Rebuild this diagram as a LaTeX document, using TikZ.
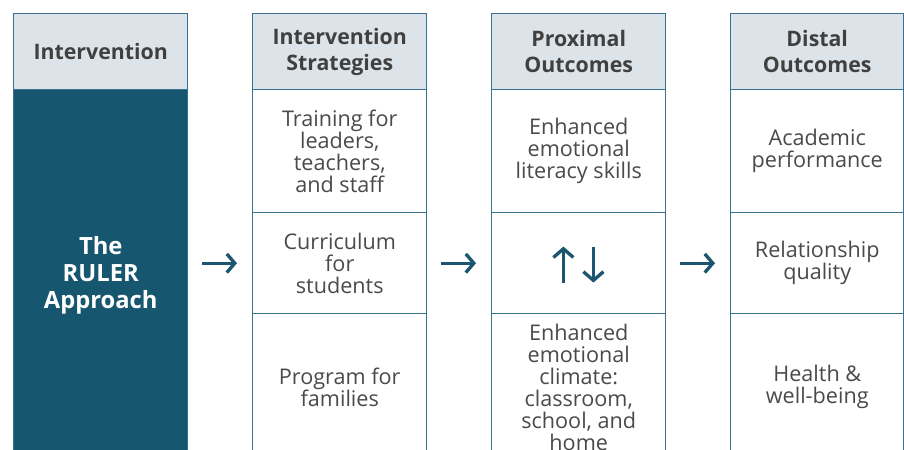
\documentclass[tikz,border=0pt]{standalone}
\usepackage{fontspec}
\setmainfont{Open Sans}
\usetikzlibrary{arrows.meta}
\definecolor{darkc}{HTML}{16566F}
\definecolor{headc}{HTML}{DDE4E9}
\definecolor{bordc}{HTML}{3A7090}
\definecolor{arrc}{HTML}{1B5570}
\definecolor{headtxt}{HTML}{404040}
\definecolor{bodytxt}{HTML}{4A4A4A}
\newcommand{\bodyfnt}{\fontsize{16.2}{16.5}\selectfont}
\newcommand{\headfnt}{\fontsize{16}{19.5}\selectfont\bfseries}
\newcommand{\rulerfnt}{\fontsize{17.8}{20}\selectfont\bfseries}
\tikzset{
  cell/.style={draw=bordc, line width=1.1pt, minimum width=130.5pt, inner sep=0pt,
    align=center, anchor=north west, text=bodytxt, font=\bodyfnt, fill=white},
  headcell/.style={cell, fill=headc, text=headtxt, font=\headfnt, minimum height=57pt},
  flowarr/.style={draw=arrc, line width=2.5pt, -{Straight Barb[length=6pt,width=14pt]},
    shorten <=10.5pt, shorten >=11.25pt},
  vertarr/.style={draw=arrc, line width=2.5pt, -{Straight Barb[length=6.5pt,width=15pt]}}
}
\begin{document}
\begin{tikzpicture}[x=0.75pt,y=-0.75pt]
\useasboundingbox (0,0) rectangle (904,450);
\clip (0,0) rectangle (904,450);
% column 1
\node[headcell] (h1) at (13,13) {Intervention};
\node[cell, fill=darkc, text=white, font=\rulerfnt, minimum height=278.25pt] (c1) at (13,89) {The\\RULER\\Approach};
% column 2
\node[headcell] (h2) at (252,13) {Intervention\\Strategies};
\node[cell, minimum height=92.25pt] (s1) at (252,89) {Training for\\leaders,\\teachers,\\and staff};
\node[cell, minimum height=75.75pt] (s2) at (252,212) {Curriculum\\for\\students};
\node[cell, minimum height=110.25pt] (s3) at (252,313) {Program for\\families};
% column 3
\node[headcell] (h3) at (491,13) {Proximal\\Outcomes};
\node[cell, minimum height=92.25pt] (p1) at (491,89) {Enhanced\\emotional\\literacy skills};
\node[cell, minimum height=75.75pt] (p2) at (491,212) {};
\node[cell, minimum height=110.25pt] (p3) at (491,313) {Enhanced\\emotional\\climate:\\classroom,\\school, and\\home};
% column 4
\node[headcell, minimum width=129.75pt] (h4) at (730,13) {Distal\\Outcomes};
\node[cell, minimum width=129.75pt, minimum height=92.25pt] (d1) at (730,89) {Academic\\performance};
\node[cell, minimum width=129.75pt, minimum height=75.75pt] (d2) at (730,212) {Relationship\\quality};
\node[cell, minimum width=129.75pt, minimum height=110.25pt] (d3) at (730,313) {Health \&\\well-being};
% flow arrows
\draw[flowarr] (c1.east |- s2.west) -- (s2.west);
\draw[flowarr] (s2.east) -- (p2.west);
\draw[flowarr] (p2.east) -- (d2.west);
% bidirectional arrows
\draw[vertarr] ([xshift=-11.5pt,yshift=-14.5pt]p2.center) -- ([xshift=-11.5pt,yshift=12.5pt]p2.center);
\draw[vertarr] ([xshift=11pt,yshift=12.5pt]p2.center) -- ([xshift=11pt,yshift=-14.5pt]p2.center);
\end{tikzpicture}
\end{document}
